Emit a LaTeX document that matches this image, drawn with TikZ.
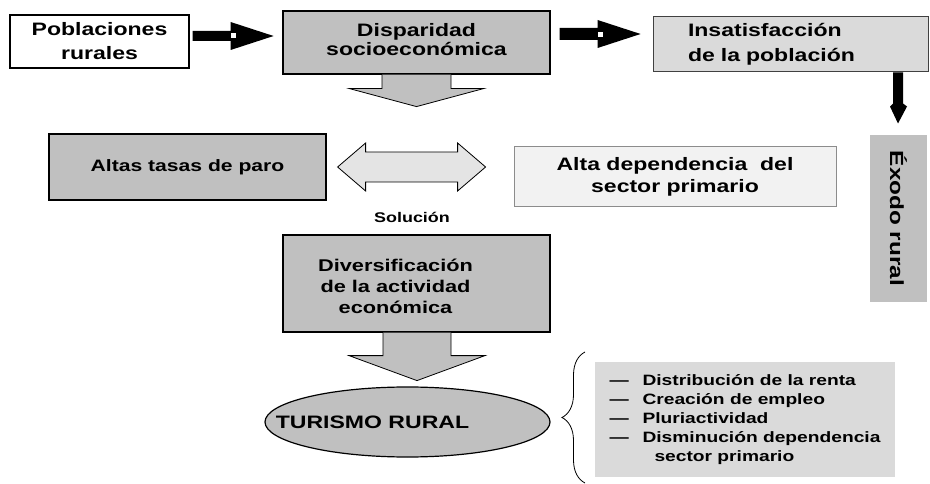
\documentclass[tikz,border=0pt]{standalone}
\usepackage{fontspec}
\setmainfont{Liberation Sans}[FakeStretch=1.28]
\usetikzlibrary{shapes.geometric,decorations.pathreplacing}
\definecolor{midgray}{HTML}{C0C0C0}
\definecolor{softgray}{HTML}{DADADA}
\definecolor{palegray}{HTML}{F2F2F2}
\definecolor{arrowgray}{HTML}{E4E4E4}
\begin{document}
\begin{tikzpicture}[x=1pt,y=-1pt]
	\tikzstyle{box}=[draw=black, line width=1.2pt, inner sep=0pt, align=center, font=\bfseries\fontsize{18}{24}\selectfont]
	\tikzstyle{darkbox}=[box, fill=midgray]
	\tikzstyle{blackarrow}=[fill=black]
	\tikzstyle{grayarrow}=[draw=black, line width=0.8pt, fill=midgray]
	\tikzstyle{lbl}=[font=\bfseries\fontsize{14}{17}\selectfont]

	\useasboundingbox (0,0) rectangle (930,484);

	\node[box, fill=white, minimum width=179pt, minimum height=53pt] (pob) at (99.5,41.5) {Poblaciones\\rurales};
	\node[darkbox, minimum width=267pt, minimum height=63pt, font=\bfseries\fontsize{18}{19}\selectfont] (disp) at (416.5,42.5) {\raisebox{-5pt}{\begin{tabular}{@{}c@{}}Disparidad\\socioeconómica\end{tabular}}};
	\node[box, draw=black!75, line width=1pt, fill=softgray, minimum width=275pt, minimum height=55pt, align=left, text width=205pt, inner xsep=35pt, font=\bfseries\fontsize{18}{25}\selectfont] (insat) at (790.5,44.5) {Insatisfacción\\de la población};
	\node[box, draw=none, fill=midgray, rotate=-90, minimum width=167pt, minimum height=57pt, font=\bfseries\fontsize{19}{22}\selectfont] (exodo) at (898.5,218.5) {Éxodo rural};

	\node[darkbox, minimum width=277pt, minimum height=66pt, font=\bfseries\fontsize{16.5}{20}\selectfont] (altas) at (187.5,167) {Altas tasas de paro};
	\node[box, draw=black!45, line width=1pt, fill=palegray, minimum width=322pt, minimum height=60pt, font=\bfseries\fontsize{18}{22}\selectfont] (altadep) at (675,177) {Alta dependencia\ \ del\\sector primario};
	\node[lbl] (sol) at (412,217) {Solución};

	\node[darkbox, minimum width=267pt, minimum height=97pt, label={[align=center, font=\bfseries\fontsize{17}{21}\selectfont, xshift=-21pt, yshift=-3pt]center:Diversificación\\de la actividad\\económica}] (divers) at (416.5,283.5) {};
	\node[darkbox, ellipse, minimum width=285pt, minimum height=70pt, label={[font=\bfseries\fontsize{18}{22}\selectfont, xshift=-35pt]center:TURISMO RURAL}] (turismo) at (407.5,422) {};

	\node[fill=softgray, minimum width=300pt, minimum height=115pt, inner sep=0pt, align=left, font=\bfseries\fontsize{15}{19}\selectfont] (efectos) at (745,419.5) {%
		\makebox[33pt][l]{—}Distribución de la renta\\
		\makebox[33pt][l]{—}Creación de empleo\\
		\makebox[33pt][l]{—}Pluriactividad\\
		\makebox[33pt][l]{—}Disminución dependencia\\
		\hspace*{45pt}sector primario};
	\coordinate (bb) at (585,483);
	\coordinate (bt) at (585,352);

	% black arrows
	\fill[blackarrow] ([shift={(3pt,5.5pt)}]pob.east) -- ++(0,-5) -- ++(38,0) -- ++(0,-9) -- ++(43,14) -- ++(-43,14) -- ++(0,-9) -- ++(-38,0) -- cycle;
	\fill[white] (231,33) rectangle (236,38);
	\fill[blackarrow] ([shift={(9pt,8.5pt)}]disp.east) -- ++(0,-6) -- ++(38,0) -- ++(0,-8) -- ++(43,14) -- ++(-43,14) -- ++(0,-8) -- ++(-38,0) -- cycle;
	\fill[white] (598,32) rectangle (603,37);
	\fill[blackarrow] ([xshift=102.5pt]insat.south) -- ++(0,31) -- ++(-3,3) -- ++(8,17) -- ++(9,-17) -- ++(-4,-3) -- ++(0,-31) -- cycle;

	% block arrows
	\draw[grayarrow] ([xshift=-34.5pt]disp.south) -- ++(0,14) -- ++(-32.5,0) -- ++(67,18) -- ++(67,-18) -- ++(-32.5,0) -- ++(0,-14);
	\draw[grayarrow] ([xshift=-33.5pt]divers.south) -- ++(0,23) -- ++(-34,0) -- ++(68,25) -- ++(68,-25) -- ++(-34,0) -- ++(0,-23);
	\draw[grayarrow, fill=arrowgray] ([xshift=11pt]altas.east) -- ++(28,-24) -- ++(0,9) -- ++(92,0) -- ++(0,-9) -- ++(28,24) -- ++(-28,24) -- ++(0,-9) -- ++(-92,0) -- ++(0,9) -- cycle;

	\draw[line width=0.8pt, decorate, decoration={brace, amplitude=23pt}] (bb) -- (bt);
\end{tikzpicture}
\end{document}
